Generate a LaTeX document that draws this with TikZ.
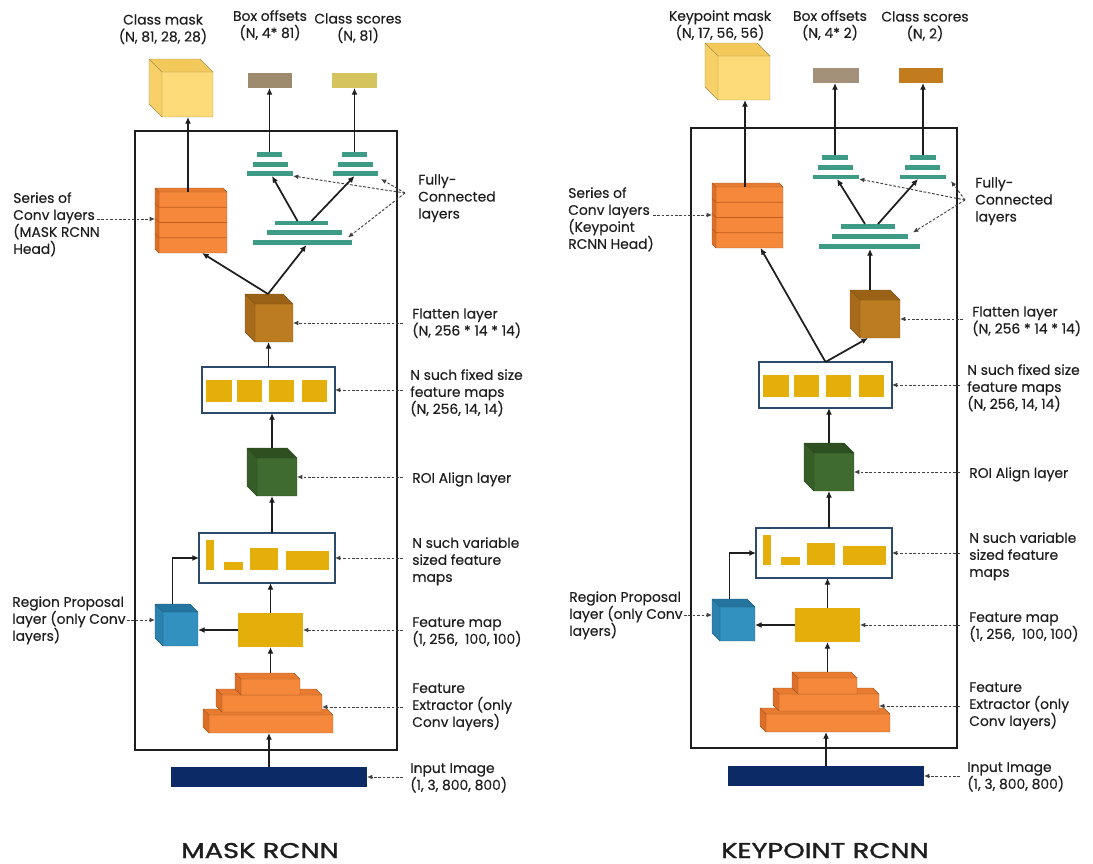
\documentclass[tikz,border=0pt]{standalone}
\usepackage{fontspec}
\setmainfont{Poppins}[FakeBold=0.3]
\newfontfamily\headfont{Poppins}[FakeBold=1.6, FakeStretch=1.28]
\usetikzlibrary{arrows.meta,fit,calc}

\definecolor{ink}{HTML}{1E1E1E}
\definecolor{orng}{HTML}{F5883A}
\definecolor{orngT}{HTML}{E97B30}
\definecolor{orngS}{HTML}{DD6F28}
\definecolor{orngedge}{HTML}{C25C1C}
\definecolor{fcteal}{HTML}{3E9C86}
\definecolor{gold}{HTML}{E5AF0B}
\definecolor{frameblue}{HTML}{2B4A6C}
\definecolor{navy}{HTML}{0C2A66}
\definecolor{maskF}{HTML}{FDDB78}
\definecolor{maskT}{HTML}{F2C95A}
\definecolor{maskS}{HTML}{F7D168}
\definecolor{flatF}{HTML}{BC7D22}
\definecolor{flatT}{HTML}{9A6217}
\definecolor{flatS}{HTML}{A86B1C}
\definecolor{roiF}{HTML}{406B2E}
\definecolor{roiT}{HTML}{2E5021}
\definecolor{roiS}{HTML}{365D27}
\definecolor{rpnF}{HTML}{3391BF}
\definecolor{rpnT}{HTML}{2474A0}
\definecolor{rpnS}{HTML}{2A83AF}
\definecolor{boxoffL}{HTML}{9E8B6D}
\definecolor{scoreL}{HTML}{D5C45E}
\definecolor{boxoffR}{HTML}{A39279}
\definecolor{scoreR}{HTML}{C27B1D}

\tikzset{
  blk/.style={inner sep=0pt, outer sep=0pt},
  flow/.style={draw=ink, line width=1.3pt, -{Latex[length=5pt,width=4.5pt]}},
  lead/.style={draw=ink!85, line width=0.7pt, dash pattern=on 2pt off 1.3pt,
    -{Latex[length=4pt,width=3.5pt]}},
  panel/.style={blk, draw=ink, line width=1.7pt},
  fcbar/.style={blk, fill=fcteal},
  fmapbox/.style={blk, draw=frameblue, line width=1.1pt, fill=white},
  goldblk/.style={blk, fill=gold},
  lbl/.style={anchor=north west, align=left, inner sep=0pt, text=ink,
    font=\fontsize{10.4}{12.75}\selectfont},
  ttl/.style={anchor=north, align=center, inner sep=0pt, text=ink,
    font=\fontsize{10.4}{12.75}\selectfont},
  heading/.style={anchor=base, inner sep=0pt, text=ink, text depth=0pt,
    font=\headfont\fontsize{16}{19}\selectfont},
}

% a box drawn in perspective: front face node #1 spanning the corners #2,
% depth #3 towards the upper left, colours front/top/side #4/#5/#6
\newcommand\cubeblk[6]{%
  \node[blk, fill=#4, fit={#2}] (#1) {};
  \coordinate (#1-bnw) at ([shift={(-#3,-#3)}]#1.north west);
  \coordinate (#1-bne) at ([shift={(-#3,-#3)}]#1.north east);
  \coordinate (#1-bsw) at ([shift={(-#3,-#3)}]#1.south west);
  \fill[#5] (#1.north west) -- (#1-bnw) -- (#1-bne) -- (#1.north east) -- cycle;
  \fill[#6] (#1.north west) -- (#1-bnw) -- (#1-bsw) -- (#1.south west) -- cycle;
  \draw[#4!65!black, line width=0.35pt, line join=round]
    (#1.south west) -- (#1-bsw) -- (#1-bnw) -- (#1-bne) -- (#1.north east)
    -- (#1.south east) -- (#1.south west) -- (#1.north west) -- (#1.north east)
    (#1.north west) -- (#1-bnw);
}
% the four conv layers of a head block
\newcommand\stacklines[1]{%
  \foreach \k in {1,2,3}
    \draw[orngedge, line width=0.6pt]
      ($(#1-bnw)!\k/4!(#1-bsw)$) -- ($(#1.north west)!\k/4!(#1.south west)$)
      -- ($(#1.north east)!\k/4!(#1.south east)$);
}

% backbone, RPN and ROI align: shared by both networks
% #1: vertical offset of the middle group, #2: of the bottom group
\newcommand\lowerpart[2]{%
  \begin{scope}[shift={(0,#1)}]
    \node[fmapbox, fit={(202,367)(335,413)}] (fixed) {};
    \foreach \a/\b [count=\i] in {206/232,237/262,269/294,302/327}
      \node[goldblk, fit={(\a,380)(\b,402)}] (fsq\i) {};
    \cubeblk{roi}{(257,458)(297,496)}{10}{roiF}{roiT}{roiS}
    \node[fmapbox, fit={(199,533)(335,583)}] (var) {};
    \node[goldblk, fit={(206,540)(214,570)}] (vbar1) {};
    \node[goldblk, fit={(224,562)(243,570)}] (vbar2) {};
    \node[goldblk, fit={(250,548)(278,570)}] (vbar3) {};
    \node[goldblk, fit={(286,551)(329,570)}] (vbar4) {};
    \node[goldblk, fit={(238,613)(303,647)}] (fmap) {};
    \cubeblk{rpn}{(163,612)(198,646)}{8}{rpnF}{rpnT}{rpnS}
    \node[lbl] (t-fixed) at (410,369) {N such fixed size\\feature maps\\(N, 256, 14, 14)};
    \node[lbl] (t-roi) at (412,472) {ROI Align layer};
    \node[lbl] (t-var) at (412,537) {N such variable\\sized feature\\maps};
    \node[lbl] (t-fmap) at (412,617) {Feature map\\(1, 256,\ \ 100, 100)};
    \node[lbl] (t-rpn) at (12,596) {Region Proposal\\layer (only Conv\\layers)};
    \coordinate (s-fixed) at (403,390);
    \coordinate (s-roi) at (403,477);
    \coordinate (s-var) at (403,558);
    \coordinate (s-fmap) at (403,630);
    \coordinate (s-rpn) at (127,620);
  \end{scope}
  \begin{scope}[shift={(0,#2)}]
    \cubeblk{pbot}{(209,715)(333,733)}{6}{orng}{orngT}{orngS}
    \cubeblk{pmid}{(222,695)(322,712)}{6}{orng}{orngT}{orngS}
    \cubeblk{ptop}{(241,679)(300,695)}{6}{orng}{orngT}{orngS}
    \node[blk, fill=navy, fit={(171,767)(367,787)}] (input) {};
    \node[lbl] (t-fe) at (412,683) {Feature\\Extractor (only\\Conv layers)};
    \node[lbl] (t-in) at (410,763) {Input Image\\(1, 3, 800, 800)};
    \coordinate (s-fe) at (403,707);
    \coordinate (s-in) at (403,777);
  \end{scope}
  \coordinate (roi-top) at ([shift={(-5,-10)}]roi.north);
  \coordinate (roi-bot) at ([shift={(-5,0)}]roi.south);
  \coordinate (rpn-top) at ([shift={(-8,-8)}]rpn.north);
  \coordinate (ptop-top) at ([shift={(0,-6)}]ptop.north);
  \draw[flow] (roi-top) -- (roi-top |- fixed.south);
  \draw[flow] (roi-bot |- var.north) -- (roi-bot);
  \draw[flow] (fmap.north) -- (fmap.north |- var.south);
  \draw[flow] (fmap.west) -- (fmap.west -| rpn.east);
  \draw[flow] (rpn-top) |- (var.west);
  \draw[flow] (ptop-top) -- (ptop-top |- fmap.south);
  \draw[flow] (input.north) -- (input.north |- pbot.south);
  \draw[lead] (s-fixed) -- (s-fixed -| fixed.east);
  \draw[lead] (s-roi) -- (s-roi -| roi.east);
  \draw[lead] (s-var) -- (s-var -| var.east);
  \draw[lead] (s-fmap) -- (s-fmap -| fmap.east);
  \draw[lead] (s-rpn) -- (s-rpn -| rpn-bsw);
  \draw[lead] (s-fe) -- (s-fe -| pmid.east);
  \draw[lead] (s-in) -- (s-in -| input.east);
}

\begin{document}
\begin{tikzpicture}[x=0.75pt, y=-0.75pt]
\useasboundingbox[fill=white] (0,0) rectangle (1093,864);

% ---------------- Mask R-CNN ----------------
\begin{scope}[name prefix=L-]
  \node[panel, fit={(135,131)(397,750)}] (panel) {};
  \lowerpart{0}{0}

  \cubeblk{mask}{(162,72)(213,117)}{13}{maskF}{maskT}{maskS}
  \node[blk, fill=boxoffL, fit={(248,73)(292,88)}] (boxoff) {};
  \node[blk, fill=scoreL, fit={(332,73)(377,88)}] (score) {};
  \node[ttl] (t-mask) at (163,14) {Class mask\\(N, 81, 28, 28)};
  \node[ttl] (t-boxoff) at (270,10) {Box offsets\\(N, 4* 81)};
  \node[ttl] (t-score) at (358,13) {Class scores\\(N, 81)};

  \cubeblk{head}{(159,192)(227,253)}{4}{orng}{orngT}{orngS}
  \stacklines{head}
  \node[fcbar, fit={(257,152)(282,157)}] (fa1) {};
  \node[fcbar, fit={(253,162)(288,167)}] (fa2) {};
  \node[fcbar, fit={(247,171)(293,176)}] (fa3) {};
  \node[fcbar, fit={(342,152)(367,157)}] (fb1) {};
  \node[fcbar, fit={(338,162)(373,167)}] (fb2) {};
  \node[fcbar, fit={(333,171)(378,176)}] (fb3) {};
  \node[fcbar, fit={(275,221)(328,225)}] (fc1) {};
  \node[fcbar, fit={(267,230)(342,235)}] (fc2) {};
  \node[fcbar, fit={(253,240)(352,245)}] (fc3) {};
  \cubeblk{flat}{(255,304)(293,342)}{10}{flatF}{flatT}{flatS}

  \node[lbl] (t-head) at (13,192) {Series of\\Conv layers\\(MASK RCNN\\Head)};
  \node[lbl] (t-fc) at (418,174) {Fully-\\Connected\\layers};
  \node[lbl] (t-flat) at (412,308) {Flatten layer\\(N, 256 * 14 * 14)};
  \coordinate (s-head) at (97,219);
  \coordinate (s-fc) at (405,193);
  \coordinate (s-flat) at (403,323);

  \coordinate (head-up) at ([shift={(-5,0)}]head.north);
  \coordinate (fc-l) at ([shift={(-4,0)}]fc1.north);
  \coordinate (fc-r) at ([shift={(10,0)}]fc1.north);
  \coordinate (flat-up) at ([shift={(-6,-10)}]flat.north);
  \draw[flow] (head-up) -- (head-up |- mask.south);
  \draw[flow] (fa1.north) -- (fa1.north |- boxoff.south);
  \draw[flow] (fb1.north) -- (fb1.north |- score.south);
  \draw[flow] (fc-l) -- ([shift={(2,0)}]fa3.south);
  \draw[flow] (fc-r) -- ([shift={(-1,0)}]fb3.south);
  \draw[flow] (flat-up) -- ([shift={(9,0)}]head.south);
  \draw[flow] (flat-up) -- ([shift={(4,0)}]fc3.south);
  \draw[flow] (fixed.north) -- (fixed.north |- flat.south);

  \draw[lead] (s-head) -- (s-head -| head-bsw);
  \draw[lead] (s-fc) -- (fa3.south east);
  \draw[lead] (s-fc) -- ([shift={(3,3)}]fb3.south east);
  \draw[lead] (s-fc) -- ([shift={(6,5)}]fc2.east);
  \draw[lead] (s-flat) -- (s-flat -| flat.east);

  \node[heading] (title) at (260,858) {MASK RCNN};
\end{scope}

% ---------------- Keypoint R-CNN ----------------
\begin{scope}[name prefix=R-]
  \node[panel, fit={(691,128)(957,748)}] (panel) {};
  \begin{scope}[shift={(557,0)}]
    \lowerpart{-5}{-1}
  \end{scope}

  \cubeblk{mask}{(718,56)(770,100)}{13}{maskF}{maskT}{maskS}
  \node[blk, fill=boxoffR, fit={(813,68)(859,83)}] (boxoff) {};
  \node[blk, fill=scoreR, fit={(899,68)(943,83)}] (score) {};
  \node[ttl] (t-mask) at (720,10) {Keypoint mask\\(N, 17, 56, 56)};
  \node[ttl] (t-boxoff) at (830,10) {Box offsets\\(N, 4* 2)};
  \node[ttl] (t-score) at (925,11) {Class scores\\(N, 2)};

  \cubeblk{head}{(716,187)(783,248)}{4}{orng}{orngT}{orngS}
  \stacklines{head}
  \node[fcbar, fit={(822,155)(848,160)}] (fa1) {};
  \node[fcbar, fit={(818,165)(853,170)}] (fa2) {};
  \node[fcbar, fit={(813,175)(859,179)}] (fa3) {};
  \node[fcbar, fit={(910,155)(936,160)}] (fb1) {};
  \node[fcbar, fit={(905,165)(940,170)}] (fb2) {};
  \node[fcbar, fit={(900,175)(946,179)}] (fb3) {};
  \node[fcbar, fit={(841,224)(895,229)}] (fc1) {};
  \node[fcbar, fit={(832,234)(908,239)}] (fc2) {};
  \node[fcbar, fit={(819,244)(920,249)}] (fc3) {};
  \cubeblk{flat}{(860,300)(900,338)}{10}{flatF}{flatT}{flatS}

  \node[lbl] (t-head) at (568,187) {Series of\\Conv layers\\(Keypoint\\RCNN Head)};
  \node[lbl] (t-fc) at (975,177) {Fully-\\Connected\\layers};
  \node[lbl] (t-flat) at (972,306) {Flatten layer\\(N, 256 * 14 * 14)};
  \coordinate (s-head) at (653,215);
  \coordinate (s-fc) at (965,200);
  \coordinate (s-flat) at (963,319);

  \coordinate (head-up) at ([shift={(-4.5,0)}]head.north);
  \coordinate (fc-l) at ([shift={(-3,0)}]fc1.north);
  \coordinate (fc-r) at ([shift={(10,0)}]fc1.north);
  \coordinate (flat-up) at ([shift={(-10,-10)}]flat.north);
  \draw[flow] (head-up) -- (head-up |- mask.south);
  \draw[flow] (fa1.north) -- (fa1.north |- boxoff.south);
  \draw[flow] (fb1.north) -- (fb1.north |- score.south);
  \draw[flow] (fc-l) -- ([shift={(1,0)}]fa3.south);
  \draw[flow] (fc-r) -- ([shift={(-5,0)}]fb3.south);
  \draw[flow] (flat-up) -- (flat-up |- fc3.south);
  \draw[flow] (fixed.north) -- ([shift={(-12,0)}]flat.south);
  \draw[flow] (fixed.north) -- ([shift={(11,0)}]head.south);

  \draw[lead] (s-head) -- (s-head -| head-bsw);
  \draw[lead] (s-fc) -- (fa3.south east);
  \draw[lead] (s-fc) -- ([shift={(5,2)}]fb3.south east);
  \draw[lead] (s-fc) -- ([shift={(5,-4)}]fc2.east);
  \draw[lead] (s-flat) -- (s-flat -| flat.east);

  \node[heading] (title) at (825,858) {KEYPOINT RCNN};
\end{scope}
\end{tikzpicture}
\end{document}
